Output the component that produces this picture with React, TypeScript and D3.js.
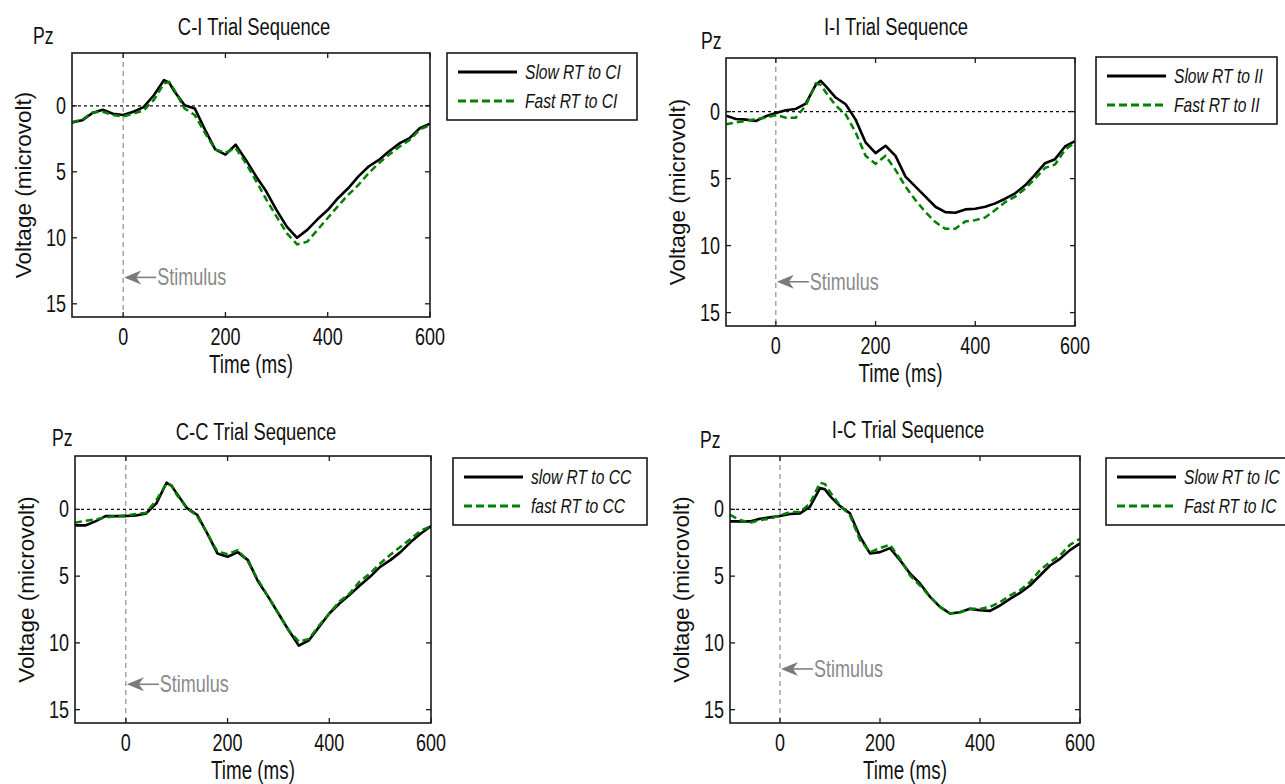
import React from 'react';
import * as d3 from 'd3';

// sample times (ms) shared by every curve
const timeMs = [-100, -80, -60, -40, -20, 0, 20, 40, 60, 80, 90, 100, 120, 140, 160, 180, 200, 220, 240, 260, 280, 300, 320, 340, 360, 380, 400, 420, 440, 460, 480, 500, 520, 540, 560, 580, 600];

// voltages (microvolt, positive plotted downwards)
const ciSlow = [1.26, 1.1, 0.55, 0.3, 0.6, 0.7, 0.45, 0.1, -0.8, -1.95, -1.75, -1.1, -0.05, 0.2, 1.8, 3.3, 3.7, 2.95, 4.1, 5.35, 6.5, 7.9, 9.15, 10.0, 9.4, 8.6, 7.9, 7.0, 6.25, 5.35, 4.6, 4.1, 3.45, 2.85, 2.45, 1.7, 1.35];
const ciFast = [1.25, 1.05, 0.5, 0.45, 0.7, 0.8, 0.6, 0.35, -0.45, -1.7, -1.8, -1.2, 0.2, 0.7, 2.05, 3.3, 3.55, 3.2, 4.35, 5.7, 7.1, 8.4, 9.65, 10.5, 10.3, 9.4, 8.5, 7.6, 6.75, 6.0, 5.1, 4.35, 3.7, 3.1, 2.6, 1.8, 1.45];
const iiSlow = [0.3, 0.55, 0.6, 0.7, 0.35, 0.1, -0.1, -0.2, -0.6, -2.0, -2.3, -1.9, -1.05, -0.55, 0.6, 2.3, 3.1, 2.55, 3.3, 4.85, 5.6, 6.35, 7.1, 7.5, 7.55, 7.3, 7.25, 7.1, 6.85, 6.5, 6.1, 5.5, 4.7, 3.85, 3.55, 2.6, 2.2];
const iiFast = [0.95, 0.8, 0.7, 0.55, 0.45, 0.25, 0.45, 0.45, -0.45, -2.1, -2.0, -1.45, -0.45, 0.2, 1.55, 3.3, 3.9, 3.3, 4.35, 5.6, 6.6, 7.5, 8.25, 8.75, 8.75, 8.2, 8.1, 7.9, 7.35, 6.75, 6.35, 5.75, 5.0, 4.2, 3.95, 2.85, 2.3];
const ccSlow = [1.2, 1.2, 0.9, 0.5, 0.5, 0.5, 0.45, 0.3, -0.45, -2.0, -1.75, -1.2, -0.1, 0.4, 1.8, 3.3, 3.55, 3.2, 3.8, 5.4, 6.55, 7.8, 9.05, 10.2, 9.8, 8.8, 7.8, 7.05, 6.4, 5.7, 5.05, 4.3, 3.8, 3.2, 2.45, 1.8, 1.25];
const ccFast = [1.0, 0.85, 0.75, 0.6, 0.5, 0.45, 0.35, 0.25, -0.7, -1.95, -1.8, -1.1, -0.1, 0.5, 1.8, 3.15, 3.35, 3.05, 3.9, 5.3, 6.55, 7.8, 9.05, 9.9, 9.7, 8.7, 7.8, 6.9, 6.3, 5.4, 4.8, 4.05, 3.4, 2.8, 2.2, 1.6, 1.25];
const icSlow = [0.9, 0.9, 0.9, 0.7, 0.6, 0.5, 0.35, 0.3, -0.2, -1.6, -1.5, -1.0, -0.25, 0.3, 2.05, 3.3, 3.2, 2.9, 3.8, 4.8, 5.55, 6.55, 7.3, 7.8, 7.7, 7.45, 7.55, 7.6, 7.2, 6.7, 6.25, 5.7, 4.95, 4.2, 3.7, 3.05, 2.55];
const icFast = [0.4, 0.8, 1.0, 0.8, 0.7, 0.45, 0.2, 0.2, -0.45, -2.0, -1.9, -1.3, -0.3, 0.45, 2.3, 3.2, 2.9, 2.65, 3.7, 4.95, 5.7, 6.55, 7.3, 7.8, 7.7, 7.45, 7.45, 7.3, 6.95, 6.45, 6.05, 5.45, 4.55, 3.95, 3.45, 2.65, 2.2];

const titles = ['C-I Trial Sequence', 'I-I Trial Sequence', 'C-C Trial Sequence', 'I-C Trial Sequence'];
const slowLabels = ['Slow RT to CI', 'Slow RT to II', 'slow RT to CC', 'Slow RT to IC'];
const fastLabels = ['Fast RT to CI', 'Fast RT to II', 'fast RT to CC', 'Fast RT to IC'];
const stimulusLevel = [13.0, 12.7, 13.1, 11.95];
const xTicks = [0, 200, 400, 600];
const yTicks = [0, 5, 10, 15];

const slowSeries = [ciSlow, iiSlow, ccSlow, icSlow];
const fastSeries = [ciFast, iiFast, ccFast, icFast];

// panel placement on the page
const layout = [
  { left: 72, right: 430, top: 53, bottom: 317, legX: 447, legY: 53, legW: 190, titleX: 254, titleY: 35, pzX: 33, pzY: 44 },
  { left: 726, right: 1075, top: 58, bottom: 326, legX: 1096, legY: 57, legW: 181, titleX: 896, titleY: 35, pzX: 701, pzY: 49 },
  { left: 75, right: 431, top: 456, bottom: 723, legX: 453, legY: 458, legW: 194, titleX: 256, titleY: 440, pzX: 52, pzY: 446 },
  { left: 730, right: 1080, top: 456, bottom: 723, legX: 1106, legY: 458, legW: 192, titleX: 908, titleY: 438, pzX: 700, pzY: 448 },
];

const SANS = "'Liberation Sans', Arial, sans-serif";
const GREEN = '#008000';
const SQUEEZE_X = 0.8; // the figure's lettering is compressed sideways
const STRETCH_Y = 1.08;

// narrow text: regular sans squeezed horizontally
function NText({ x, y, size, anchor = 'start', central = false, italic = false, fill = '#111', children }: any) {
  return (
    <text
      transform={`translate(${x},${y}) scale(${SQUEEZE_X},${STRETCH_Y})`}
      textAnchor={anchor}
      dominantBaseline={central ? 'central' : undefined}
      fontFamily={SANS}
      fontSize={size}
      fontStyle={italic ? 'italic' : undefined}
      fill={fill}
    >
      {children}
    </text>
  );
}

function Panel({ i }: { i: number }) {
  const L = layout[i];
  const x = d3.scaleLinear().domain([-100, 600]).range([L.left, L.right]);
  const y = d3.scaleLinear().domain([-4, 16]).range([L.top, L.bottom]);
  const line = d3.line<number>()
    .x((_, k) => x(timeMs[k]))
    .y(d => y(d));
  const clipId = `clip${i}`;
  const x0 = x(0);
  const sy = y(stimulusLevel[i]);
  const tick = 5;

  return (
    <g>
      <defs>
        <clipPath id={clipId}>
          <rect x={L.left} y={L.top} width={L.right - L.left} height={L.bottom - L.top} />
        </clipPath>
      </defs>
      <NText x={L.pzX} y={L.pzY} size={22}>Pz</NText>
      <NText x={L.titleX} y={L.titleY} size={23} anchor="middle">{titles[i]}</NText>

      {/* reference lines */}
      <line x1={L.left} x2={L.right} y1={y(0)} y2={y(0)} stroke="#111" strokeWidth={1.3} strokeDasharray="3,3" />
      <line x1={x0} x2={x0} y1={L.top} y2={L.bottom} stroke="#777" strokeWidth={1} strokeDasharray="5,4" />

      <g clipPath={`url(#${clipId})`}>
        <path d={line(slowSeries[i]) || ''} fill="none" stroke="#000" strokeWidth={2.6} strokeLinejoin="round" />
        <path d={line(fastSeries[i]) || ''} fill="none" stroke={GREEN} strokeWidth={2.5} strokeDasharray="7,4" />
      </g>

      {/* stimulus arrow */}
      <line x1={x0 + 12} x2={x0 + 33} y1={sy} y2={sy} stroke="#808080" strokeWidth={1.6} />
      <path d={`M${x0 + 1},${sy} L${x0 + 18},${sy - 7} L${x0 + 13},${sy} L${x0 + 18},${sy + 7} Z`} fill="#7a7a7a" />
      <NText x={x0 + 34} y={sy} size={22.5} central fill="#8a8a8a">Stimulus</NText>

      {/* box */}
      <rect x={L.left} y={L.top} width={L.right - L.left} height={L.bottom - L.top} fill="none" stroke="#1a1a1a" strokeWidth={1.6} />
      {xTicks.map(t => (
        <g key={`xt${t}`}>
          <line x1={x(t)} x2={x(t)} y1={L.bottom} y2={L.bottom - tick} stroke="#1a1a1a" strokeWidth={1.3} />
          <line x1={x(t)} x2={x(t)} y1={L.top} y2={L.top + tick} stroke="#1a1a1a" strokeWidth={1.3} />
          <NText x={x(t)} y={L.bottom + 28} size={22.5} anchor="middle">{t}</NText>
        </g>
      ))}
      {yTicks.map(v => (
        <g key={`yt${v}`}>
          <line x1={L.left} x2={L.left + tick} y1={y(v)} y2={y(v)} stroke="#1a1a1a" strokeWidth={1.3} />
          <line x1={L.right} x2={L.right - tick} y1={y(v)} y2={y(v)} stroke="#1a1a1a" strokeWidth={1.3} />
          <NText x={L.left - 6} y={y(v)} size={22.5} anchor="end" central>{v}</NText>
        </g>
      ))}
      <NText x={(L.left + L.right) / 2} y={L.bottom + 56} size={23.5} anchor="middle">Time (ms)</NText>
      <text transform={`translate(${L.left - 41},${(L.top + L.bottom) / 2}) rotate(-90)`} textAnchor="middle" fontFamily={SANS} fontSize={22.5} fill="#111">Voltage (microvolt)</text>

      {/* legend */}
      <rect x={L.legX} y={L.legY} width={L.legW} height={67} fill="#fff" stroke="#1a1a1a" strokeWidth={1.6} />
      <line x1={L.legX + 11} x2={L.legX + 70} y1={L.legY + 19} y2={L.legY + 19} stroke="#000" strokeWidth={2.8} />
      <line x1={L.legX + 11} x2={L.legX + 70} y1={L.legY + 48} y2={L.legY + 48} stroke={GREEN} strokeWidth={2.8} strokeDasharray="8,4" />
      <NText x={L.legX + 78} y={L.legY + 19} size={19.5} central italic>{slowLabels[i]}</NText>
      <NText x={L.legX + 78} y={L.legY + 48} size={19.5} central italic>{fastLabels[i]}</NText>
    </g>
  );
}

export default function App() {
  return (
    <svg
      width={1285}
      height={784}
      style={{ position: 'absolute', left: 0, top: 0, background: '#fff', overflow: 'hidden' }}
    >
      <rect width={1285} height={784} fill="#fff" />
      {titles.map((_, i) => <Panel key={i} i={i} />)}
    </svg>
  );
}
